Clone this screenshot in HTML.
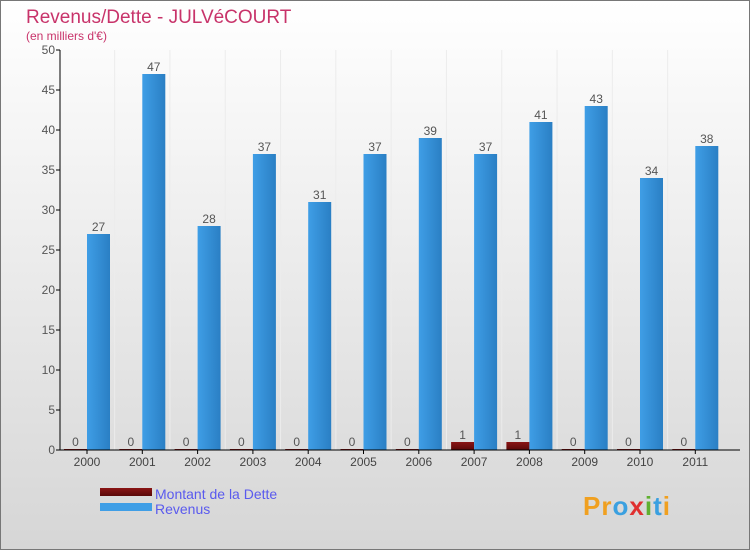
<!DOCTYPE html>
<html><head><meta charset="utf-8"><style>
html,body{margin:0;padding:0}
body{width:750px;height:550px;overflow:hidden;font-family:"Liberation Sans",sans-serif}
</style></head><body>
<svg id="chart" width="750" height="550" xmlns="http://www.w3.org/2000/svg" font-family="Liberation Sans, sans-serif">
<defs>
<linearGradient id="bg" x1="0" y1="0" x2="0" y2="1"><stop offset="0" stop-color="#ffffff"/><stop offset="1" stop-color="#d6d6d6"/></linearGradient>
<linearGradient id="rev" x1="0" y1="0" x2="1" y2="0"><stop offset="0" stop-color="#3f9ee6"/><stop offset="1" stop-color="#2a7fc4"/></linearGradient>
<linearGradient id="det" x1="0" y1="0" x2="0" y2="1"><stop offset="0" stop-color="#8a1515"/><stop offset="1" stop-color="#5a0808"/></linearGradient>
</defs>
<rect x="0.5" y="0.5" width="749" height="549" fill="url(#bg)" stroke="#777"/>
<text x="26" y="23" font-size="19" fill="#c8336a">Revenus/Dette - JULVéCOURT</text>
<text x="26" y="40" font-size="12" fill="#c8336a">(en milliers d'€)</text>
<g id="grid"></g><g id="bars"></g><g id="axes"></g>
<g>
<rect x="100" y="488" width="52" height="8" fill="url(#det)"/>
<text x="155" y="499" font-size="14" fill="#5a5aee">Montant de la Dette</text>
<rect x="100" y="503" width="52" height="8" fill="#3f9ee6"/>
<text x="155" y="514" font-size="14" fill="#5a5aee">Revenus</text>
</g>
<text x="583" y="515" font-size="26" font-weight="bold" letter-spacing="1"><tspan fill="#f0a020">Pr</tspan><tspan fill="#3aa0e0">o</tspan><tspan fill="#e03030">x</tspan><tspan fill="#60b030">i</tspan><tspan fill="#3aa0e0">t</tspan><tspan fill="#f0a020">i</tspan></text>
</svg>
<script>
const years=["2000","2001","2002","2003","2004","2005","2006","2007","2008","2009","2010","2011"];
const revenus=[27,47,28,37,31,37,39,37,41,43,34,38];
const dette=[0,0,0,0,0,0,0,1,1,0,0,0];
const yTicks=[0,5,10,15,20,25,30,35,40,45,50];
const NS="http://www.w3.org/2000/svg";
const x0=60,x1=740,yTop=50,yBot=450,yMax=50;
const step=55.3,first=87,bw=23;
function xs(i){return first+i*step;}
function ys(v){return yBot-(v/yMax)*(yBot-yTop);}
function mk(tag,attrs,parent,txt){const e=document.createElementNS(NS,tag);for(const k in attrs)e.setAttribute(k,attrs[k]);if(txt!==undefined)e.textContent=txt;parent.appendChild(e);return e;}
const grid=document.getElementById('grid'),bars=document.getElementById('bars'),axes=document.getElementById('axes');
years.forEach((y,i)=>{
  if(i>0){const g=mk('line',{x1:xs(i)-step/2,x2:xs(i)-step/2,y1:yTop,y2:yBot,stroke:'#ececec'},grid);
  
  }
  const c=xs(i);
  const hd=Math.max(ys(0)-ys(dette[i]),1);
  const d=mk('rect',{x:c-bw,y:yBot-hd,width:bw,height:hd,fill:'url(#det)'},bars);
  
  
  const dl=mk('text',{x:c-bw/2,y:yBot-hd-3,'font-size':12,fill:'#555','text-anchor':'middle'},bars,String(dette[i]));
  
  
  const r=mk('rect',{x:c,y:ys(revenus[i]),width:bw,height:ys(0)-ys(revenus[i]),fill:'url(#rev)'},bars);
  
  
  const rl=mk('text',{x:c+bw/2,y:ys(revenus[i])-3,'font-size':12,fill:'#555','text-anchor':'middle'},bars,String(revenus[i]));
  
  
  const t=mk('line',{x1:c,x2:c,y1:yBot,y2:yBot+4,stroke:'#000'},axes);
  
  
  const xl=mk('text',{x:c,y:yBot+16,'font-size':12,fill:'#444','text-anchor':'middle'},axes,y);
  
  
});
yTicks.forEach(v=>{
  const t=mk('line',{x1:x0-4,x2:x0,y1:ys(v),y2:ys(v),stroke:'#000'},axes);
  
  
  const l=mk('text',{x:x0-5,y:ys(v)+4,'font-size':12,fill:'#555','text-anchor':'end'},axes,String(v));
  
  
});
const ya=mk('line',{x1:x0,x2:x0,y1:yTop,y2:yBot,stroke:'#000'},axes);


const xa=mk('line',{x1:x0,x2:x1,y1:yBot,y2:yBot,stroke:'#000'},axes);


</script>
</body></html>
